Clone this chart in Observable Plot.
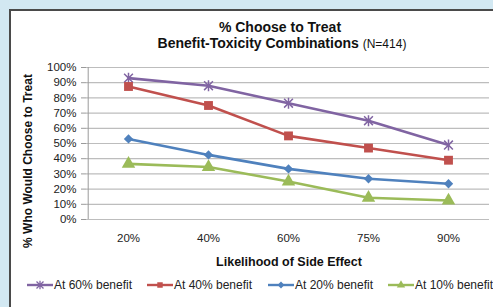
<!DOCTYPE html>
<html>
<head>
<meta charset="utf-8">
<script src="https://cdn.jsdelivr.net/npm/d3@7"></script>
<script src="https://cdn.jsdelivr.net/npm/@observablehq/plot@0.6"></script>
<style>
  html, body { margin: 0; padding: 0; }
  body { width: 493px; height: 307px; overflow: hidden; background: #d2e8f2; position: relative; font-family: "Liberation Sans", Arial, sans-serif; }
  #panel { position: absolute; left: 9px; top: 9px; width: 520px; height: 320px; background: #fff; border-left: 2px solid #4a4a4a; border-top: 2px solid #4a4a4a; }
  #chart { position: absolute; left: 0; top: 0; }
  #chart svg { background: transparent; }
  .t1 { position: absolute; left: 130px; width: 300px; top: 20px; line-height: 14px; text-align: center; font-weight: bold; font-size: 14px; color: #111; }
  .t2 { position: absolute; left: 82px; width: 400px; top: 36px; line-height: 14px; text-align: center; font-weight: bold; font-size: 14px; color: #111; white-space: nowrap; }
  .t2 span { font-weight: normal; font-size: 12px; }
  .ylab { position: absolute; left: 28px; top: 161px; transform: translate(-50%, -50%) rotate(-90deg); font-weight: bold; font-size: 12px; line-height: 12px; white-space: nowrap; color: #111; }
  .xlab { position: absolute; left: 139px; width: 300px; top: 256px; line-height: 12.5px; text-align: center; font-weight: bold; font-size: 12.5px; color: #111; }
  #legend { position: absolute; left: 27px; top: 278px; font-size: 12px; line-height: 14px; color: #222; white-space: nowrap; }
  .li { position: absolute; top: 0; display: flex; align-items: center; }
  .li svg { margin-right: 1px; }
</style>
</head>
<body>
<div id="panel"></div>
<div id="chart"></div>
<div class="t1">% Choose to Treat</div>
<div class="t2">Benefit-Toxicity Combinations <span>(N=414)</span></div>
<div class="ylab">% Who Would Choose to Treat</div>
<div class="xlab">Likelihood of Side Effect</div>
<div id="legend"></div>
<script>
const categories = ["20%", "40%", "60%", "75%", "90%"];
const seriesNames = ["At 60% benefit", "At 40% benefit", "At 20% benefit", "At 10% benefit"];
const at60 = [93, 88, 76.5, 65, 49];
const at40 = [87.5, 75, 55, 47, 39];
const at20 = [53, 42.5, 33.3, 26.8, 23.5];
const at10 = [36.6, 34.5, 25, 14.3, 12.5];
const yTicks = [0, 10, 20, 30, 40, 50, 60, 70, 80, 90, 100];
const colors = ["#8064a2", "#c0504d", "#4f81bd", "#9bbb59"];
const symbols = ["star", "square", "diamond2", "triangle"];

// Excel-like star marker: an "x" with a vertical stroke
const starX = {
  draw(ctx, size) {
    const r = Math.sqrt(size / Math.PI);
    const a = r * 0.8;
    ctx.moveTo(-a, -a); ctx.lineTo(a, a);
    ctx.moveTo(-a, a); ctx.lineTo(a, -a);
    ctx.moveTo(0, -r); ctx.lineTo(0, r);
  }
};

const allValues = [at60, at40, at20, at10];
const data = [];
allValues.forEach((vals, si) => {
  vals.forEach((v, i) => data.push({series: seriesNames[si], cat: categories[i], value: v}));
});

const W = 493, ML = 86, MR = 4;
const step = (W - ML - MR) / categories.length;

const marks = [
  Plot.gridY(yTicks, {stroke: "#bdbdbd", strokeOpacity: 1, strokeWidth: 1.2}),
  Plot.ruleX([categories[0]], {dx: -step / 2, stroke: "#9a9a9a"}),
  Plot.axisY(yTicks, {tickFormat: d => d + "%", tickSize: 5, stroke: "#9a9a9a", fontSize: 11.5, fill: "#222", tickPadding: 5, label: null}),
  Plot.axisX(categories, {tickSize: 0, fontSize: 11.5, fill: "#222", tickPadding: 14, label: null}),
];
seriesNames.forEach((name, si) => {
  const d = data.filter(r => r.series === name);
  marks.push(Plot.line(d, {x: "cat", y: "value", stroke: colors[si], strokeWidth: 2.6}));
});
seriesNames.forEach((name, si) => {
  const d = data.filter(r => r.series === name);
  const sym = symbols[si];
  if (sym === "star") {
    marks.push(Plot.dot(d, {x: "cat", y: "value", symbol: starX, fill: "none", stroke: colors[si], strokeWidth: 1.5, r: 5.5}));
  } else {
    marks.push(Plot.dot(d, {x: "cat", y: "value", symbol: sym, fill: colors[si], stroke: "none", r: sym === "diamond2" ? 4.2 : 5}));
  }
});

const chart = Plot.plot({
  width: W,
  height: 307,
  marginLeft: ML,
  marginRight: MR,
  marginTop: 67,
  marginBottom: 88,
  x: {type: "point", domain: categories, padding: 0.5},
  y: {type: "linear", domain: [0, 100]},
  style: {fontFamily: "'Liberation Sans', Arial, sans-serif", background: "transparent"},
  marks
});
document.getElementById("chart").appendChild(chart);

// legend
const legend = document.getElementById("legend");
const lx = [0, 120, 241, 361];
seriesNames.forEach((name, si) => {
  const div = document.createElement("div");
  div.className = "li";
  div.style.left = lx[si] + "px";
  const svg = d3.create("svg").attr("width", 26).attr("height", 14);
  svg.append("line").attr("x1", 0).attr("x2", 26).attr("y1", 7).attr("y2", 7).attr("stroke", colors[si]).attr("stroke-width", 2.4);
  const map = {star: starX, square: d3.symbolSquare, diamond2: d3.symbolDiamond2, triangle: d3.symbolTriangle};
  const p = svg.append("path").attr("transform", "translate(13,7)")
    .attr("d", d3.symbol(map[symbols[si]], symbols[si] === "star" ? 60 : 30)());
  if (symbols[si] === "star") p.attr("fill", "none").attr("stroke", colors[si]).attr("stroke-width", 1.3);
  else p.attr("fill", colors[si]);
  div.appendChild(svg.node());
  const s = document.createElement("span");
  s.textContent = name;
  div.appendChild(s);
  legend.appendChild(div);
});
</script>
</body>
</html>
